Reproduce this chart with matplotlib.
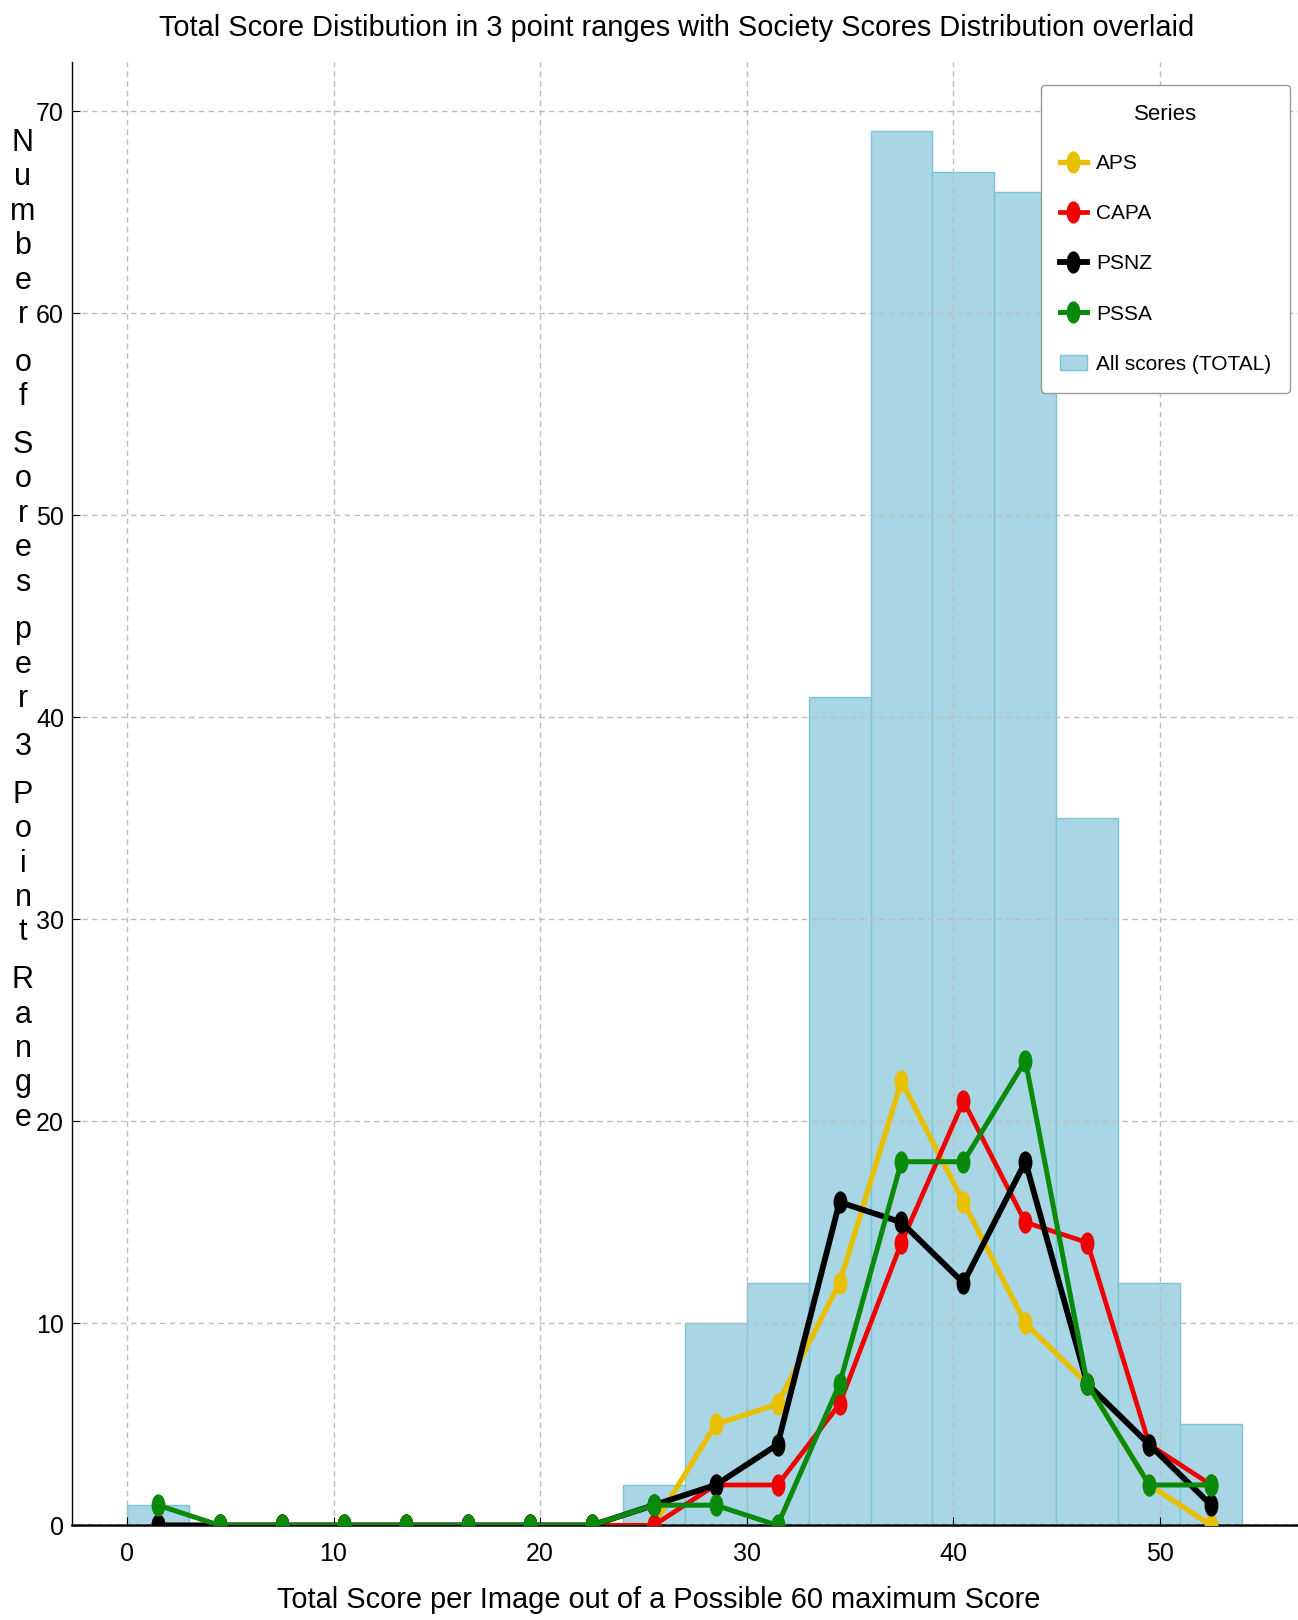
import matplotlib.pyplot as plt
from matplotlib.path import Path
from matplotlib.transforms import Affine2D
import numpy as np

# 3 point score ranges (edges) and bin centres
bin_edges = np.arange(0, 57, 3)
bin_centres = bin_edges[:-1] + 1.5

# all scores histogram (counts per 3 point range)
total_counts = [1, 0, 0, 0, 0, 0, 0, 0, 2, 10, 12, 41, 69, 67, 66, 35, 12, 5]

# society distributions
aps  = [0, 0, 0, 0, 0, 0, 0, 0, 0, 5, 6, 12, 22, 16, 10, 7, 2, 0]
capa = [0, 0, 0, 0, 0, 0, 0, 0, 0, 2, 2, 6, 14, 21, 15, 14, 4, 2]
psnz = [0, 0, 0, 0, 0, 0, 0, 0, 1, 2, 4, 16, 15, 12, 18, 7, 4, 1]
pssa = [1, 0, 0, 0, 0, 0, 0, 0, 1, 1, 0, 7, 18, 18, 23, 7, 2, 2]

series_names = ['APS', 'CAPA', 'PSNZ', 'PSSA']
series_colors = ['#e8c000', '#f00000', '#000000', '#0a8a0a']
series_widths = [3.8, 3.4, 4.2, 3.6]

font = ['Liberation Sans', 'DejaVu Sans']
plt.rcParams['font.family'] = font

# tall, narrow oval marker like the original
oval = Path.unit_circle().transformed(Affine2D().scale(0.6, 1.0))

fig = plt.figure(figsize=(12.98, 16.2), dpi=100)
ax = fig.add_axes([0.0557, 0.0584, 0.9443, 0.9036])

ax.bar(bin_edges[:-1], total_counts, width=3, align='edge',
       color='#a8d6e4', edgecolor='#7fc3d6', linewidth=1,
       label='All scores (TOTAL)', zorder=1)

for name, vals, col, lw in zip(series_names, [aps, capa, psnz, pssa],
                               series_colors, series_widths):
    ax.plot(bin_centres, vals, color=col, lw=lw, marker=oval, markersize=15,
            label=name, zorder=3)

ax.set_xlim(-2.65, 56.7)
ax.set_ylim(0, 72.45)
ax.set_xticks(np.arange(0, 51, 10))
ax.set_yticks(np.arange(0, 71, 10))
ax.grid(True, linestyle=(0, (4, 3)), color='#bdbdbd', linewidth=1)
ax.set_axisbelow(False)

for s in ['top', 'right']:
    ax.spines[s].set_visible(False)
ax.spines['bottom'].set_linewidth(1.8)
ax.spines['left'].set_linewidth(1.0)
ax.tick_params(direction='in', length=6, labelsize=18)
ax.tick_params(axis='x', pad=12)
ax.tick_params(axis='y', pad=6)

renderer = fig.canvas.get_renderer()

def fit_width(t, target_px):
    w = t.get_window_extent(renderer).width
    t.set_fontsize(t.get_fontsize() * target_px / w)

title = fig.suptitle('Total Score Distibution in 3 point ranges with Society Scores Distribution overlaid',
                     x=0.5216, y=0.9827, va='center', fontsize=20)
fit_width(title, 1034)

ax.set_xlabel('Total Score per Image out of a Possible 60 maximum Score', fontsize=20)
ax.xaxis.set_label_coords(0.4787, -0.051)
ax.xaxis.label.set_va('center')
fit_width(ax.xaxis.label, 764)

# stacked, letter-by-letter y label
ylab = 'Number of Sores per 3 Point Range'
y_px = 151.0
for word_i, word in enumerate(ylab.split(' ')):
    if word_i > 0:
        y_px += 13.4
    for ch in word:
        fig.text(0.0177, 1 - y_px / 1620, ch, fontsize=22, ha='center', va='baseline')
        y_px += 34.4

handles, labels = ax.get_legend_handles_labels()
leg = ax.legend(handles, labels, title='Series', loc='upper right',
                bbox_to_anchor=(0.9935, 0.984), borderaxespad=0,
                fontsize=15, title_fontsize=16,
                handlelength=1.3, handletextpad=0.45, labelspacing=1.5,
                borderpad=0.9, framealpha=1, edgecolor='#999999')
leg._legend_box.sep = 21

fig.savefig('out.png', dpi=100)
